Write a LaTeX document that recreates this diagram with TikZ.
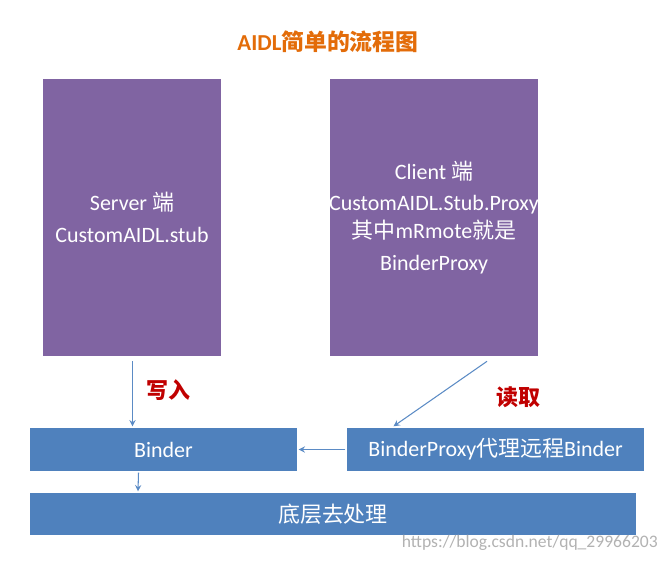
\documentclass[tikz,border=0pt]{standalone}
\usepackage{fontspec}
\setmainfont{Carlito}
\newfontfamily\cjk{Noto Sans CJK SC}
\usetikzlibrary{positioning}
\definecolor{purp}{HTML}{8064A2}
\definecolor{blu}{HTML}{4F81BD}
\definecolor{arr}{HTML}{5B8BC5}
\definecolor{ttl}{HTML}{E36C09}
\definecolor{lbl}{HTML}{C00000}
\begin{document}
\begin{tikzpicture}[x=0.02cm,y=-0.02cm]
    \tikzstyle{panel} = [rectangle, draw=white, line width=1.5pt, fill=purp,
        text=white, align=center, font=\fontsize{12.5}{15}\selectfont, inner sep=0pt]
    \tikzstyle{bar} = [rectangle, draw=white, line width=0.8pt, fill=blu,
        text=white, align=center, font=\fontsize{12.5}{15}\selectfont, inner sep=0pt]
    \tikzstyle{arrow} = [->, >=stealth, draw=arr, line width=0.6pt]
    \tikzstyle{tag} = [text=lbl, font=\cjk\bfseries\fontsize{12.5}{15}\selectfont]

    \useasboundingbox (0,0) rectangle (672,561);

    \node(title) [text=ttl, font=\bfseries\fontsize{13}{16}\selectfont]
        at (328,42) {AIDL{\cjk 简单的流程图}};

    \node(server) [panel, minimum width=180*0.02cm, minimum height=279*0.02cm]
        at (132,217.5)
        {Server {\cjk 端}\\[3pt] CustomAIDL.stub};
    \node(client) [panel, minimum width=190*0.02cm, minimum height=279*0.02cm]
        at (434,217.5)
        {Client {\cjk 端}\\[3pt] CustomAIDL.Stub.Proxy\\[1pt]
        {\cjk 其中}mRmote{\cjk 就是}\\[3pt] BinderProxy};

    \node(binder) [bar, minimum width=269*0.02cm, minimum height=45*0.02cm]
        at (163.5,449.5) {Binder};
    \node(proxy) [bar, minimum width=299*0.02cm, minimum height=45*0.02cm]
        at (495.5,449.5) {BinderProxy{\cjk 代理远程}Binder};
    \node(lower) [bar, minimum width=608*0.02cm, minimum height=44*0.02cm]
        at (333,514) {\cjk 底层去处理};

    \node(write) [tag] at (168,390) {写入};
    \node(read) [tag] at (518,397) {读取};

    \node(mark) [text=gray!60, font=\fontsize{10}{12}\selectfont, anchor=east]
        at (664,543) {https://blog.csdn.net/qq\_29966203};

    \draw[arrow] (server.south -| binder.north) ++(-31,3) -- ([xshift=-31*0.02cm]binder.north);
    \draw[arrow] ([xshift=53*0.02cm,yshift=-3*0.02cm]client.south) -- ([xshift=-102*0.02cm]proxy.north);
    \draw[arrow] (proxy.west) -- (binder.east);
    \draw[arrow] ([xshift=-25*0.02cm]binder.south) -- ([xshift=-195*0.02cm]lower.north);
\end{tikzpicture}
\end{document}
